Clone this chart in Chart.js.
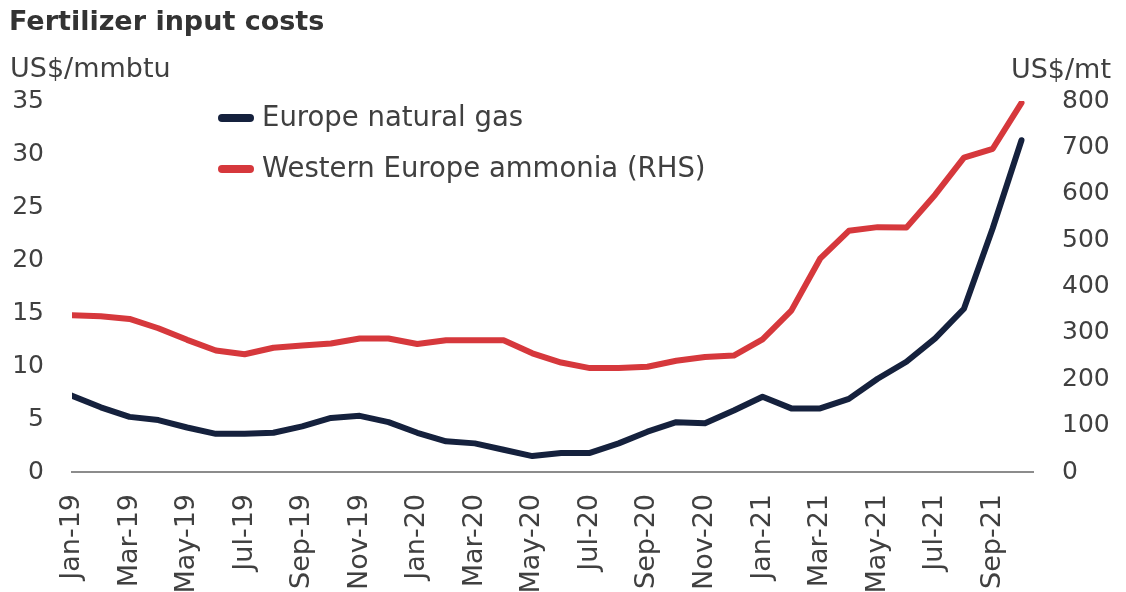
<!DOCTYPE html>
<html><head><meta charset="utf-8">
<script src="https://cdn.jsdelivr.net/npm/chart.js@4/dist/chart.umd.min.js"></script>
<style>html,body{margin:0;padding:0;background:#fff;overflow:hidden}</style>
</head><body>
<canvas id="c" width="1126" height="592" style="width:1126px;height:592px;display:block"></canvas>
<script>
const months = ["Jan-19","Feb-19","Mar-19","Apr-19","May-19","Jun-19","Jul-19","Aug-19","Sep-19","Oct-19","Nov-19","Dec-19",
  "Jan-20","Feb-20","Mar-20","Apr-20","May-20","Jun-20","Jul-20","Aug-20","Sep-20","Oct-20","Nov-20","Dec-20",
  "Jan-21","Feb-21","Mar-21","Apr-21","May-21","Jun-21","Jul-21","Aug-21","Sep-21","Oct-21"];
const gasPrices = [7.2,6.1,5.2,4.9,4.2,3.6,3.6,3.7,4.3,5.1,5.3,4.7,
  3.7,2.9,2.7,2.1,1.5,1.8,1.8,2.7,3.8,4.7,4.6,5.8,
  7.1,6.0,6.0,6.9,8.8,10.4,12.6,15.4,23.0,31.3];
const ammoniaPrices = [338,336,330,310,285,262,254,268,273,277,288,288,
  276,284,284,284,256,236,224,224,227,240,248,251,
  286,348,460,520,528,527,598,678,697,796];
const seriesNames = ["Europe natural gas","Western Europe ammonia (RHS)"];
const chartTitle = "Fertilizer input costs";
const leftUnit = "US$/mmbtu";
const rightUnit = "US$/mt";

const NAVY = "#15213d", RED = "#d6383c", TXT = "#404040";
const FONT = '"DejaVu Sans", Verdana, sans-serif';

const decor = {
  id: 'decor',
  afterDraw(chart) {
    const ctx = chart.ctx;
    ctx.save();
    ctx.fillStyle = "#333";
    ctx.font = 'bold 27px ' + FONT;
    ctx.textBaseline = 'alphabetic';
    ctx.textAlign = 'left';
    ctx.fillText(chartTitle, 9, 30);
    ctx.fillStyle = TXT;
    ctx.font = '27px ' + FONT;
    ctx.fillText(leftUnit, 10, 77);
    ctx.textAlign = 'right';
    ctx.fillText(rightUnit, 1111, 78);
    ctx.textAlign = 'left';
    ctx.textBaseline = 'middle';
    chart.data.datasets.forEach((ds, i) => {
      const y = 118 + i * 51;
      ctx.strokeStyle = ds.borderColor;
      ctx.lineWidth = 8;
      ctx.lineCap = 'round';
      ctx.beginPath();
      ctx.moveTo(222, y); ctx.lineTo(250, y);
      ctx.stroke();
      ctx.fillStyle = TXT;
      ctx.font = '27.5px ' + FONT;
      ctx.fillText(ds.label, 262, y + 1);
    });
    ctx.restore();
  }
};

new Chart(document.getElementById('c'), {
  type: 'line',
  data: {
    datasets: [
      { label: seriesNames[0], data: gasPrices.map((v, i) => ({x: i, y: v})), yAxisID: 'yL',
        borderColor: NAVY, backgroundColor: NAVY, borderWidth: 6, pointRadius: 0, tension: 0,
        borderJoinStyle: 'round', borderCapStyle: 'round' },
      { label: seriesNames[1], data: ammoniaPrices.map((v, i) => ({x: i, y: v})), yAxisID: 'yR',
        borderColor: RED, backgroundColor: RED, borderWidth: 6, pointRadius: 0, tension: 0,
        borderJoinStyle: 'round', borderCapStyle: 'round' }
    ]
  },
  options: {
    responsive: false,
    animation: false,
    devicePixelRatio: 1,
    layout: { padding: { top: 101, left: 0, right: 0, bottom: 0 } },
    plugins: { legend: { display: false }, tooltip: { enabled: false }, title: { display: false } },
    scales: {
      x: {
        type: 'linear', min: 0, max: 33.4,
        grid: { display: false, drawTicks: false },
        border: { display: true, color: '#8c8c8c', width: 2 },
        ticks: {
          stepSize: 2, autoSkip: false, minRotation: 90, maxRotation: 90, padding: 22,
          color: TXT, font: { family: FONT, size: 27 },
          callback: (v) => (Number.isInteger(v) && months[v] !== undefined) ? months[v] : ''
        },
        afterFit: (s) => { s.height = 120; }
      },
      yL: {
        position: 'left', min: 0, max: 35,
        grid: { display: false, drawTicks: false },
        border: { display: false },
        ticks: { stepSize: 5, padding: 28, color: TXT, font: { family: FONT, size: 25 } },
        afterFit: (s) => { s.width = 72; }
      },
      yR: {
        position: 'right', min: 0, max: 800,
        grid: { display: false, drawTicks: false },
        border: { display: false },
        ticks: { stepSize: 100, padding: 29, color: TXT, font: { family: FONT, size: 25 } },
        afterFit: (s) => { s.width = 93; }
      }
    }
  },
  plugins: [decor]
});
</script>
</body></html>
